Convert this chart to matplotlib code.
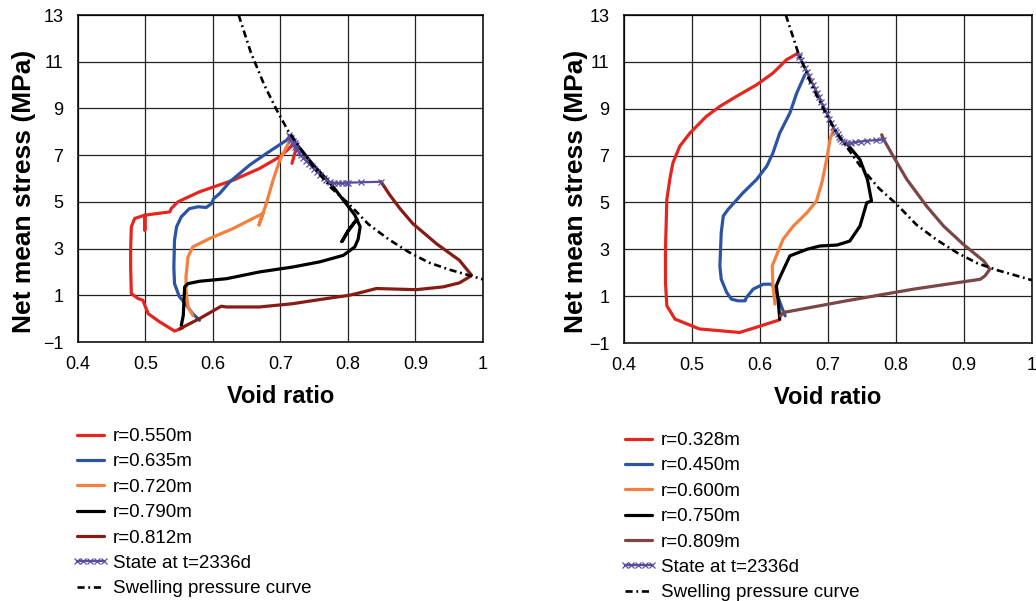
import numpy as np
import matplotlib.pyplot as plt
from matplotlib.ticker import FixedLocator

plt.rcParams['font.family'] = ['Liberation Sans', 'DejaVu Sans']

# ---- swelling pressure curve (same in both panels) ----
e_swell = [0.638, 0.656, 0.676, 0.695, 0.712, 0.728, 0.750, 0.775, 0.800,
           0.830, 0.860, 0.890, 0.920, 0.950, 0.980, 1.000]
p_swell = [13.0, 11.4, 10.0, 8.9, 8.0, 7.35, 6.45, 5.6, 4.95,
           4.05, 3.40, 2.85, 2.40, 2.10, 1.85, 1.68]

# ---- left panel ----
e_550 = [0.555, 0.543, 0.521, 0.504, 0.496, 0.489, 0.479, 0.478, 0.478, 0.479,
         0.484, 0.499, 0.499, 0.499, 0.536, 0.538, 0.548, 0.580, 0.630, 0.669,
         0.699, 0.718, 0.724, 0.717]
p_550 = [-0.40, -0.53, -0.14, 0.21, 0.79, 0.86, 1.07, 2.21, 2.93, 3.93,
         4.29, 4.43, 3.79, 4.43, 4.57, 4.71, 5.00, 5.43, 5.93, 6.43,
         6.93, 7.43, 7.36, 6.65]

e_635 = [0.580, 0.570, 0.560, 0.550, 0.543, 0.542, 0.543, 0.546, 0.553, 0.565,
         0.578, 0.590, 0.598, 0.601, 0.610, 0.625, 0.654, 0.679, 0.709, 0.714]
p_635 = [-0.07, 0.21, 0.60, 0.95, 1.50, 2.21, 3.36, 3.93, 4.36, 4.71,
         4.79, 4.76, 4.93, 5.14, 5.36, 5.86, 6.57, 7.07, 7.64, 7.79]

e_720 = [0.570, 0.563, 0.560, 0.560, 0.563, 0.570, 0.595, 0.630, 0.664, 0.674,
         0.668, 0.679, 0.689, 0.699, 0.709, 0.714]
p_720 = [0.14, 0.50, 1.21, 1.79, 2.64, 3.07, 3.43, 3.86, 4.36, 4.50,
         4.00, 4.93, 5.93, 6.79, 7.36, 7.64]

e_790 = [0.553, 0.556, 0.557, 0.558, 0.563, 0.580, 0.620, 0.669, 0.718, 0.758,
         0.793, 0.810, 0.815, 0.818, 0.813, 0.800, 0.791, 0.800, 0.813, 0.810,
         0.776, 0.748, 0.720]
p_790 = [-0.29, 0.14, 0.79, 1.36, 1.50, 1.60, 1.71, 2.00, 2.21, 2.43,
         2.71, 3.07, 3.40, 3.94, 4.25, 3.75, 3.30, 3.75, 4.25, 4.44,
         5.72, 6.60, 7.60]

e_812 = [0.551, 0.580, 0.612, 0.620, 0.669, 0.718, 0.768, 0.802, 0.822, 0.842,
         0.901, 0.941, 0.965, 0.980, 0.983, 0.965, 0.931, 0.896, 0.877, 0.862,
         0.849]
p_812 = [-0.43, 0.00, 0.53, 0.50, 0.50, 0.64, 0.86, 1.00, 1.14, 1.29,
         1.24, 1.36, 1.53, 1.79, 1.86, 2.50, 3.21, 4.07, 4.71, 5.29,
         5.86]

e_state_l = [0.849, 0.820, 0.800, 0.797, 0.791, 0.785, 0.779, 0.773, 0.768, 0.764,
             0.759, 0.754, 0.750, 0.746, 0.742, 0.738, 0.734, 0.730, 0.727, 0.724,
             0.722, 0.720, 0.718, 0.716, 0.714, 0.713, 0.716, 0.719, 0.721, 0.723]
p_state_l = [5.86, 5.84, 5.82, 5.82, 5.81, 5.81, 5.82, 5.84, 5.93, 6.04,
             6.16, 6.28, 6.40, 6.52, 6.64, 6.76, 6.88, 7.00, 7.12, 7.24,
             7.36, 7.46, 7.56, 7.66, 7.76, 7.86, 7.72, 7.60, 7.50, 7.42]

# ---- right panel ----
e_328 = [0.629, 0.600, 0.570, 0.511, 0.475, 0.463, 0.461, 0.461, 0.463, 0.468,
         0.472, 0.482, 0.497, 0.521, 0.541, 0.565, 0.595, 0.619, 0.639, 0.656]
p_328 = [-0.01, -0.28, -0.55, -0.40, 0.02, 0.59, 1.58, 3.00, 5.13, 6.10,
         6.69, 7.40, 7.96, 8.67, 9.10, 9.52, 10.02, 10.52, 11.09, 11.37]

e_450 = [0.637, 0.632, 0.624, 0.617, 0.605, 0.590, 0.580, 0.578, 0.568, 0.558,
         0.551, 0.543, 0.541, 0.543, 0.546, 0.553, 0.575, 0.595, 0.610, 0.619,
         0.629, 0.644, 0.654, 0.666]
p_450 = [0.16, 0.52, 1.16, 1.51, 1.51, 1.30, 0.94, 0.80, 0.80, 0.87,
         1.16, 1.72, 2.29, 3.71, 4.42, 4.70, 5.41, 5.98, 6.55, 7.11,
         7.96, 8.82, 9.67, 10.45]

e_600 = [0.622, 0.619, 0.618, 0.624, 0.634, 0.649, 0.669, 0.683, 0.691, 0.698,
         0.703, 0.708]
p_600 = [0.66, 1.44, 2.29, 2.72, 3.43, 3.99, 4.56, 5.06, 5.84, 6.83,
         7.68, 8.11]

e_750 = [0.629, 0.627, 0.624, 0.629, 0.644, 0.669, 0.688, 0.713, 0.732, 0.747,
         0.757, 0.764, 0.758, 0.747, 0.727]
p_750 = [0.02, 0.73, 1.44, 1.79, 2.72, 3.00, 3.14, 3.18, 3.35, 3.99,
         4.99, 5.06, 5.98, 6.83, 7.54]

e_809 = [0.630, 0.634, 0.727, 0.826, 0.924, 0.931, 0.938, 0.929, 0.899, 0.870,
         0.845, 0.816, 0.796, 0.782, 0.779]
p_809 = [0.15, 0.30, 0.80, 1.30, 1.72, 1.87, 2.15, 2.50, 3.21, 3.99,
         4.84, 5.98, 6.97, 7.68, 7.89]

e_state_r = [0.781, 0.770, 0.757, 0.748, 0.740, 0.734, 0.728, 0.724, 0.721, 0.718,
             0.716, 0.714, 0.712, 0.710, 0.708, 0.705, 0.702, 0.699, 0.696, 0.693,
             0.690, 0.687, 0.684, 0.681, 0.678, 0.675, 0.672, 0.669, 0.666, 0.663,
             0.660, 0.658, 0.657]
p_state_r = [7.68, 7.66, 7.63, 7.60, 7.57, 7.55, 7.54, 7.58, 7.64, 7.72,
             7.80, 7.90, 8.00, 8.10, 8.22, 8.40, 8.58, 8.76, 8.94, 9.12,
             9.30, 9.48, 9.66, 9.84, 10.02, 10.20, 10.38, 10.56, 10.74, 10.92,
             11.08, 11.20, 11.30]

x_ticks = [0.4, 0.5, 0.6, 0.7, 0.8, 0.9, 1.0]
x_labels = ['0.4', '0.5', '0.6', '0.7', '0.8', '0.9', '1']
y_ticks = [-1, 1, 3, 5, 7, 9, 11, 13]
y_labels = ['\u22121', '1', '3', '5', '7', '9', '11', '13']

RED = '#e5261f'
BLUE = '#2c54a2'
ORANGE = '#f3803f'
PURPLE = '#5c4c9f'

left_series = [
    (e_550, p_550, RED, 'r=0.550m'),
    (e_635, p_635, BLUE, 'r=0.635m'),
    (e_720, p_720, ORANGE, 'r=0.720m'),
    (e_790, p_790, 'black', 'r=0.790m'),
    (e_812, p_812, '#861c14', 'r=0.812m'),
]
right_series = [
    (e_328, p_328, RED, 'r=0.328m'),
    (e_450, p_450, BLUE, 'r=0.450m'),
    (e_600, p_600, ORANGE, 'r=0.600m'),
    (e_750, p_750, 'black', 'r=0.750m'),
    (e_809, p_809, '#7a4646', 'r=0.809m'),
]

fig = plt.figure(figsize=(10.36, 6.01), dpi=100)
W, H = 1036, 601


def px_axes(x0, y0, x1, y1):
    return fig.add_axes([x0 / W, 1 - y1 / H, (x1 - x0) / W, (y1 - y0) / H])


def draw_panel(ax, series, e_state, p_state, ylab_x, leg_x, leg_y):
    for e, p, c, lab in series:
        ax.plot(e, p, color=c, lw=2.3, label=lab, solid_capstyle='round',
                solid_joinstyle='round', zorder=3)
    ax.plot(e_state, p_state, color=PURPLE, lw=1.6, marker='x', ms=4.5, mew=0.9,
            label='State at t=2336d', zorder=4)
    ax.plot(e_swell, p_swell, color='black', lw=1.9, ls=(0, (2.7, 1.4, 0.7, 1.4)),
            label='Swelling pressure curve', zorder=5)

    ax.set_xlim(0.4, 1.0)
    ax.set_ylim(-1, 13)
    ax.xaxis.set_major_locator(FixedLocator(x_ticks))
    ax.yaxis.set_major_locator(FixedLocator(y_ticks))
    ax.set_xticklabels(x_labels)
    ax.set_yticklabels(y_labels)
    ax.tick_params(length=0, labelsize=13, pad=10)
    ax.tick_params(axis='y', pad=10.5)
    ax.grid(True, color='#222222', lw=0.9)
    ax.set_axisbelow(True)
    for s in ax.spines.values():
        s.set_linewidth(1.1)
    ax.set_xlabel('Void ratio', fontsize=17, fontweight='bold', labelpad=9)
    ax.set_ylabel('Net mean stress (MPa)', fontsize=19, fontweight='bold')
    ax.yaxis.set_label_coords(ylab_x, 0.462)

    ax.legend(loc='upper left', bbox_to_anchor=(leg_x / W, 1 - leg_y / H),
              bbox_transform=fig.transFigure, frameon=False, fontsize=13.5,
              handlelength=2.04, handletextpad=0.2, labelspacing=0.44,
              borderpad=0, borderaxespad=0, numpoints=5)


ax1 = px_axes(78, 15, 483, 342)
draw_panel(ax1, left_series, e_state_l, p_state_l, -0.104, 71, 428)

ax2 = px_axes(624, 15, 1032, 343)
draw_panel(ax2, right_series, e_state_r, p_state_r, -0.088, 619, 432)

fig.savefig('out.png', dpi=100)
